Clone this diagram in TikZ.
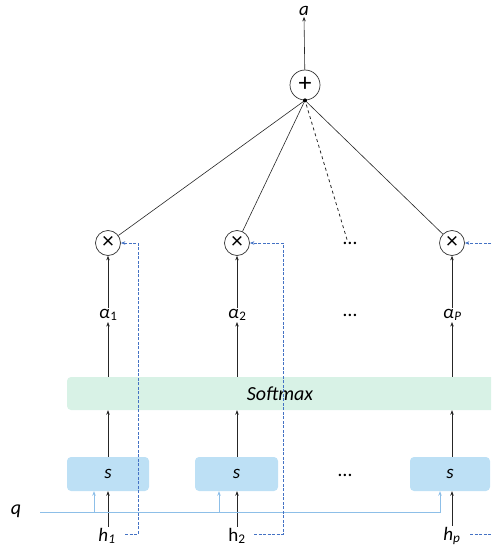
\documentclass[tikz,border=0pt]{standalone}
\usepackage{fontspec}
\setmainfont{Carlito}
\usetikzlibrary{arrows.meta}
\definecolor{dblue}{HTML}{4472C4}
\definecolor{lblue}{HTML}{8DBFE8}
\definecolor{boxblue}{HTML}{BDE0F5}
\definecolor{smgreen}{HTML}{D8F2E6}
\newcommand{\alab}[1]{\textit{α}\kern0.5pt\raisebox{-2.5pt}{\fontsize{13}{13}\selectfont #1}}
\begin{document}
\begin{tikzpicture}[x=1pt,y=-1pt,
  tip/.style={-{Stealth[length=4.5pt,width=3.5pt]}},
  conn/.style={draw=black!85,line width=0.6pt},
  opcirc/.style={circle,draw=black!80,line width=0.7pt,inner sep=0pt,minimum size=25pt,font=\fontsize{23}{23}\selectfont},
  lab/.style={inner sep=1pt,font=\fontsize{19}{19}\selectfont},
  sbox/.style={rounded corners=4pt,fill=boxblue,minimum height=34pt,inner sep=0pt,font=\fontsize{19}{19}\selectfont\itshape},
  bdash/.style={draw=dblue,line width=0.9pt,dash pattern=on 3pt off 1.5pt},
  qline/.style={draw=lblue,line width=0.9pt},
  dotlab/.style={inner sep=0pt,font=\fontsize{20}{20}\selectfont}
]
\useasboundingbox (0,0) rectangle (491,548);
\begin{scope}
\clip (0,0) rectangle (491,548);
% plus and output
\node[opcirc,minimum size=30pt,font=\fontsize{26}{26}\selectfont] (p) at (305,85) {\raisebox{1pt}{+}};
\node[lab,font=\fontsize{19}{19}\selectfont\itshape] (a) at (304,11) {a};
\draw[conn,tip] (p) -- (a.south);
% multiply nodes
\node[opcirc] (m1) at (108,243) {\raisebox{1pt}{×}};
\node[opcirc] (m2) at (237,243) {\raisebox{1pt}{×}};
\node[opcirc] (mP) at (452,243) {\raisebox{1pt}{×}};
\node[dotlab] (d1) at (350,243) {…};
% alpha
\node[lab] (a1) at (108,315) {\alab{1}};
\node[lab] (a2) at (237,315) {\alab{2}};
\node[lab] (aP) at (452,315) {\alab{\textit{P}}};
\node[dotlab] (d2) at (350,315) {…};
% softmax
\node[rounded corners=4pt,fill=smgreen,minimum width=430pt,minimum height=33pt,inner sep=0pt,font=\fontsize{20}{20}\selectfont\itshape] (smx) at (282,393.5) {\hspace*{-4pt}Softmax};
% s boxes
\node[sbox,minimum width=82pt] (s1) at (108,474) {s};
\node[sbox,minimum width=83pt] (s2) at (236.5,474) {s};
\node[sbox,minimum width=80pt] (sP) at (450,474) {s};
\node[dotlab] (d3) at (345,475) {…};
% h labels and q
\node[lab] (h1) at (107,536) {\textit{h}\textsubscript{\textit{1}}};
\node[lab] (h2) at (237,536) {h\textsubscript{2}};
\node[lab] (hP) at (452,536) {\textit{h}\textsubscript{\textit{p}}};
\node[lab,font=\fontsize{20}{20}\selectfont\itshape] (q) at (16,511) {q};
% coordinates
\coordinate (qs) at (40,512);
\coordinate (qe) at (440,512);
\coordinate (c1a) at (125,534);
\coordinate (c1b) at (138,534);
\coordinate (c1c) at (138,243);
\coordinate (c2a) at (254,534);
\coordinate (c2b) at (283,534);
\coordinate (c2c) at (283,243);
\coordinate (cPa) at (470,534);
\coordinate (cPb) at (491,534);
\coordinate (cPc) at (491,243);
\coordinate (b1) at (94,512);
\coordinate (b2) at (219,512);
% lines to plus
\draw[conn] (m1) -- (p.south);
\draw[conn] (m2) -- (p.south);
\draw[conn] (mP) -- (p.south);
\draw[conn,dashed,line width=0.8pt] ([xshift=-3pt,yshift=2pt]d1.north) -- (p.south);
\fill (p.south) circle (2pt);
% alpha to multiply
\draw[conn,tip] (a1.north) -- (m1);
\draw[conn,tip] (a2.north) -- (m2);
\draw[conn,tip] (aP.north) -- (mP);
% softmax to alpha
\draw[conn,tip] (smx.north -| a1) -- (a1.south);
\draw[conn,tip] (smx.north -| a2) -- (a2.south);
\draw[conn,tip] (smx.north -| aP) -- (aP.south);
% s to softmax
\draw[conn,tip] (s1.north -| a1) -- (smx.south -| a1);
\draw[conn,tip] (s2.north -| a2) -- (smx.south -| a2);
\draw[conn,tip] (sP.north -| aP) -- (smx.south -| aP);
% h to s
\draw[conn,tip] (h1.north -| a1) -- (s1.south -| a1);
\draw[conn,tip] (h2.north) -- (s2.south -| h2);
\draw[conn,tip] (hP.north) -- (sP.south -| hP);
% q line
\draw[qline,tip] (qs) -- (qe) -- (sP.south -| qe);
\draw[qline,tip] (b1) -- (s1.south -| b1);
\draw[qline,tip] (b2) -- (s2.south -| b2);
% dashed value paths
\draw[bdash,tip] (c1a) -- (c1b) -- (c1c) -- (m1.east);
\draw[bdash,tip] (c2a) -- (c2b) -- (c2c) -- (m2.east);
\draw[bdash] (cPa) -- (cPb);
\draw[bdash,tip] (cPc) -- (mP.east);
\end{scope}
\end{tikzpicture}
\end{document}
